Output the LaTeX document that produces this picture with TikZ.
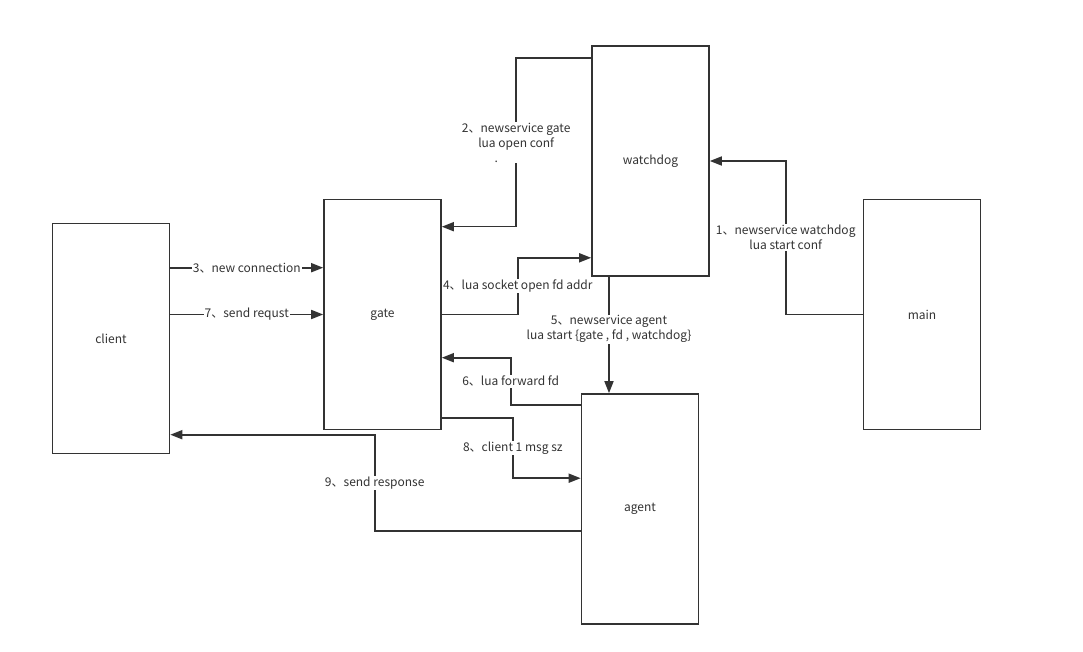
\documentclass[tikz,border=0pt]{standalone}
\usepackage{fontspec}
\setmainfont{Noto Sans CJK SC}
\usetikzlibrary{arrows.meta}
\definecolor{ink}{HTML}{333333}

\begin{document}
\begin{tikzpicture}[x=1pt,y=-1pt,
	box/.style={draw=ink,line width=1.6pt,fill=white,minimum width=117pt,minimum height=230pt,inner sep=0pt,font=\fontsize{12}{15}\selectfont,text=ink},
	flow/.style={draw=ink,line width=1.6pt,-{Triangle[length=12pt,width=9pt]}},
	lbl/.style={fill=white,inner sep=1pt,align=center,text=ink,font=\fontsize{12}{15}\selectfont}]
	\useasboundingbox (0,0) rectangle (1083,652);
	\foreach \name/\x/\y in
	{
		watchdog/650.5/161,
		gate/382.5/314.5,
		client/111/338.5,
		main/922/314.5,
		agent/640/509
	}
	{
		\node[box] (\name) at (\x,\y) {\name};
	}
	% watchdog started by main
	\draw[flow] (main.west) -- ++(-77,0) |- node[lbl,pos=0.25] {1、newservice watchdog\\lua start conf} (watchdog.east);
	\draw[flow] ([yshift=-13pt]watchdog.north west) -- ++(-75,0) |- node[lbl,pos=0.25] {2、newservice gate\\lua open conf\\\hspace*{-40pt}.} ([yshift=-28pt]gate.north east);
	% client -> gate
	\draw[flow] ([yshift=-45pt]client.north east) -- node[lbl] {3、new connection} ([yshift=-69pt]gate.north west);
	\draw[flow] (client.east |- gate.west) -- node[lbl] {7、send requst} (gate.west);
	\draw[flow] (gate.east) -- ++(76,0) |- node[lbl,pos=0.25] {4、lua socket open fd addr} ([yshift=19pt]watchdog.south west);
	\draw[flow] ([xshift=-41.5pt]watchdog.south) coordinate (w5) -- node[lbl,pos=0.45] {5、newservice agent\\lua start \{gate , fd , watchdog\}} (w5 |- agent.north);
	% agent <-> gate
	\draw[flow] ([yshift=-12pt]agent.north west) -- ++(-70,0) |- node[lbl,pos=0.25] {6、lua forward fd} ([yshift=-159pt]gate.north east);
	\draw[flow] ([yshift=-219pt]gate.north east) -- ++(71,0) |- node[lbl,pos=0.25] {8、client 1 msg sz} ([yshift=-85pt]agent.north west);
	\draw[flow] ([yshift=-138pt]agent.north west) -- ++(-206,0) |- node[lbl,pos=0.25] {9、send response} ([yshift=-212pt]client.north east);
\end{tikzpicture}
\end{document}
